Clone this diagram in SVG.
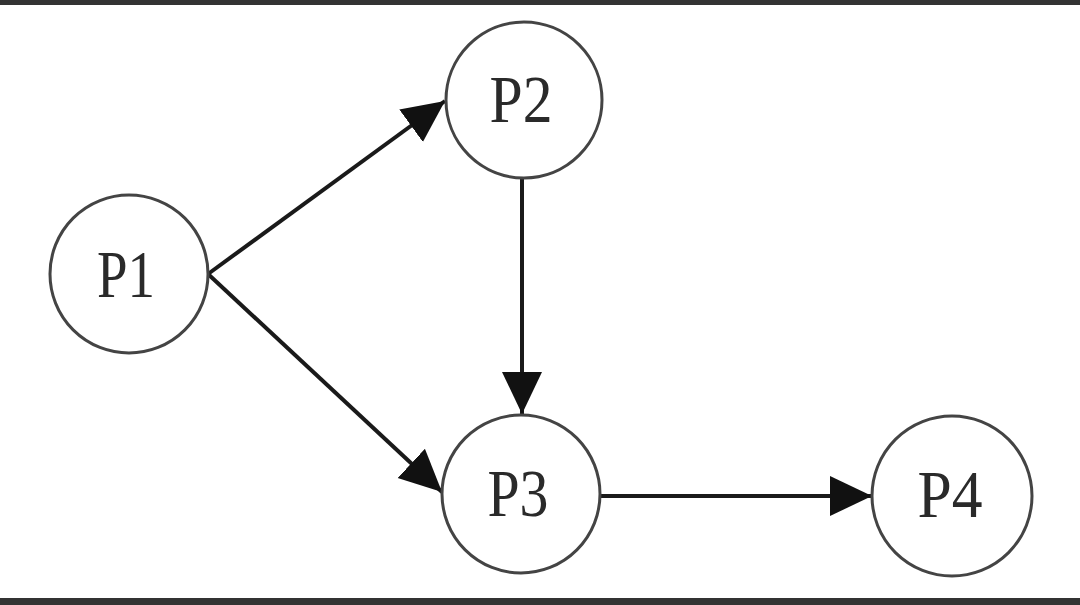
<svg xmlns="http://www.w3.org/2000/svg" width="1080" height="605" viewBox="0 0 1080 605">
<style>
.node circle{fill:#fff;stroke:#444;stroke-width:3}
.node text{font-family:"Liberation Serif","Times New Roman",serif;font-size:68px;fill:#2a2a2a;text-anchor:middle}
.edge{stroke:#1a1a1a;stroke-width:4;fill:none}
</style>
<defs>
<marker id="ah" markerUnits="userSpaceOnUse" markerWidth="44" markerHeight="42" refX="42" refY="20" orient="auto">
<path d="M0,0 L42,20 L0,40 Z" fill="#111"/>
</marker>
</defs>
<rect x="0" y="0" width="1080" height="605" fill="#fff"/>
<rect x="0" y="0" width="1080" height="5" fill="#333"/>
<rect x="0" y="598" width="1080" height="7" fill="#333"/>
<g id="connectors">
<line class="edge" x1="208" y1="274" x2="445" y2="101" marker-end="url(#ah)"/>
<line class="edge" x1="208" y1="274" x2="442" y2="492" marker-end="url(#ah)"/>
<line class="edge" x1="522" y1="178" x2="522" y2="414" marker-end="url(#ah)"/>
<line class="edge" x1="600" y1="496" x2="872" y2="496" marker-end="url(#ah)"/>
</g>
<g id="P1" class="node"><circle cx="129" cy="274" r="79"/><text x="126" y="297" textLength="58" lengthAdjust="spacingAndGlyphs">P1</text></g>
<g id="P2" class="node"><circle cx="524" cy="100" r="78"/><text x="521" y="122" textLength="63" lengthAdjust="spacingAndGlyphs">P2</text></g>
<g id="P3" class="node"><circle cx="521" cy="494" r="79"/><text x="518" y="516" textLength="61" lengthAdjust="spacingAndGlyphs">P3</text></g>
<g id="P4" class="node"><circle cx="952" cy="496" r="80"/><text x="950" y="517" textLength="65" lengthAdjust="spacingAndGlyphs">P4</text></g>
</svg>
